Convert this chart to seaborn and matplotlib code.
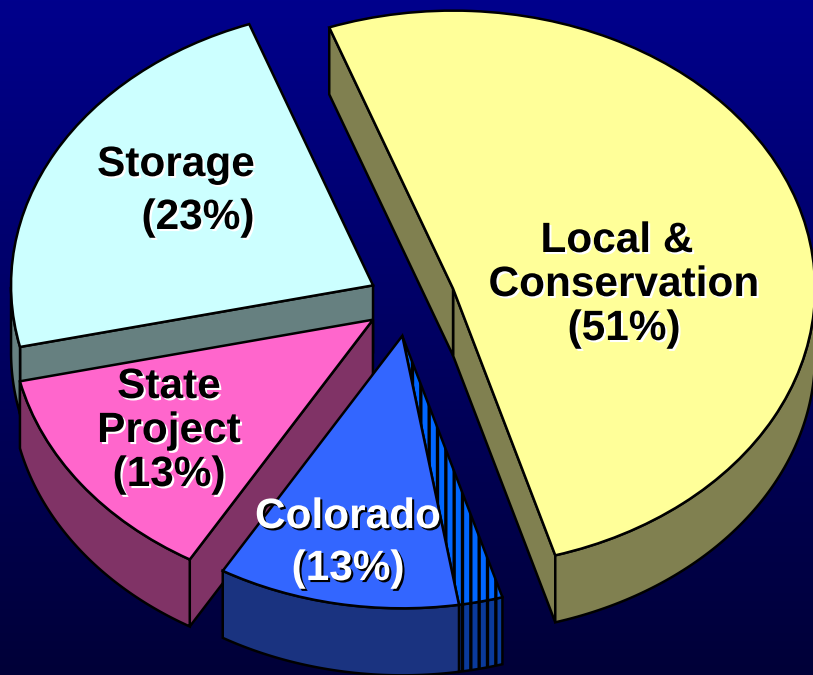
"""Exploded pseudo-3D pie of water supply sources on a navy gradient."""
import matplotlib

matplotlib.use("Agg")
import matplotlib.patheffects as pe
import matplotlib.pyplot as plt
import numpy as np
import seaborn as sns

# Colorado is one 13% block, its last 2% drawn hatched
slices = ["Local & Conservation", "Colorado (hatched)", "Colorado", "State Project", "Storage"]
shares = [51, 2, 11, 13, 23]
groups = ["local", "colorado", "colorado", "state", "storage"]
explode = {"local": 0.131, "colorado": 0.13, "state": 0.12, "storage": 0.11}
radius = {"local": 1.0, "colorado": 0.98, "state": 1.0, "storage": 1.0}

top_colors = ["#FFFF99", "#0066FF", "#3366FF", "#FF66CC", "#CCFFFF"]
wall_colors = ["#808050", "#0A3A9A", "#1A3380", "#803366", "#668080"]
draw_order = [4, 0, 3, 1, 2]

W, H = 813, 675
RX, RY = 362, 278
CX, CY = 408, 300
DEPTH = 67 / RY
START = 110
LW = 1.8

sns.set_style("white")
plt.rcParams["hatch.linewidth"] = 2.4
plt.rcParams["font.family"] = ["Liberation Sans", "DejaVu Sans"]

fig = plt.figure(figsize=(W / 100, H / 100), dpi=100)
ax = fig.add_axes([0, 0, 1, 1])

wedges, _ = ax.pie(shares, colors=top_colors, startangle=START, counterclock=False,
                   wedgeprops={"edgecolor": "black", "linewidth": LW})
ax.set_aspect("auto")
xlim = (-CX / RX, (W - CX) / RX)
ylim = ((CY - H) / RY, CY / RY)
ax.set_xlim(xlim)
ax.set_ylim(ylim)

# background gradient
cmap = sns.blend_palette(["#00008C", "#000038"], as_cmap=True)
ax.imshow(np.linspace(0, 1, 256).reshape(-1, 1), cmap=cmap, aspect="auto",
          extent=(*xlim, *ylim), origin="upper", zorder=-1)
ax.set_xlim(xlim)
ax.set_ylim(ylim)

# one explode centre per group, along the mid angle of the whole group
centers = {}
for g in set(groups):
    idx = [i for i, name in enumerate(groups) if name == g]
    a1 = min(wedges[i].theta1 for i in idx)
    a2 = max(wedges[i].theta2 for i in idx)
    mid = np.deg2rad((a1 + a2) / 2)
    centers[g] = (explode[g] * np.cos(mid), explode[g] * np.sin(mid))


def draw_wall(cx, cy, r, angle, color, z):
    a = np.deg2rad(angle)
    xs = [cx, cx + r * np.cos(a), cx + r * np.cos(a), cx]
    ys = [cy, cy + r * np.sin(a), cy + r * np.sin(a) - DEPTH, cy - DEPTH]
    ax.fill(xs, ys, facecolor=color, edgecolor="black", linewidth=LW, zorder=z)


def draw_rim(cx, cy, r, t1, t2, color, z, hatch=None):
    # only the part of the arc on the lower half of the ellipse shows
    angles = np.linspace(t1, t2, 200)
    angles = angles[np.sin(np.deg2rad(angles)) < 0]
    if len(angles) == 0:
        return
    a = np.deg2rad(angles)
    xs = np.r_[cx + r * np.cos(a), cx + r * np.cos(a[::-1])]
    ys = np.r_[cy + r * np.sin(a), cy + r * np.sin(a[::-1]) - DEPTH]
    ax.fill(xs, ys, facecolor=color, edgecolor="black", linewidth=LW, zorder=z, hatch=hatch)


for z, i in enumerate(draw_order):
    w = wedges[i]
    cx, cy = centers[groups[i]]
    r = radius[groups[i]]
    hatch = "||" if "hatched" in slices[i] else None
    if np.cos(np.deg2rad(w.theta1)) > 0:
        draw_wall(cx, cy, r, w.theta1, wall_colors[i], 10 + 2 * z)
    if np.cos(np.deg2rad(w.theta2)) < 0:
        draw_wall(cx, cy, r, w.theta2, wall_colors[i], 10 + 2 * z)
    draw_rim(cx, cy, r, w.theta1, w.theta2, wall_colors[i], 10 + 2 * z, hatch)
    w.set_center((cx, cy))
    w.set_radius(r)
    w.set_zorder(11 + 2 * z)
    w.set_hatch(hatch)


def label(px, py, txt, color, shadow):
    ax.text((px - CX) / RX, (CY - py) / RY, txt, color=color, fontsize=30.5, fontweight="bold",
            ha="center", va="center", zorder=50,
            path_effects=[pe.withSimplePatchShadow(offset=(1.5, -1.5), shadow_rgbFace=shadow, alpha=1)])


label(176, 165, "Storage", "black", "white")
label(198, 218, "(23%)", "black", "white")
label(617, 241, "Local &", "black", "white")
label(624, 285, "Conservation", "black", "white")
label(624, 329, "(51%)", "black", "white")
label(169, 387, "State", "black", "white")
label(169, 431, "Project", "black", "white")
label(169, 475, "(13%)", "black", "white")
label(348, 517, "Colorado", "white", "black")
label(348, 569, "(13%)", "white", "black")

fig.savefig("out.png", dpi=100)
